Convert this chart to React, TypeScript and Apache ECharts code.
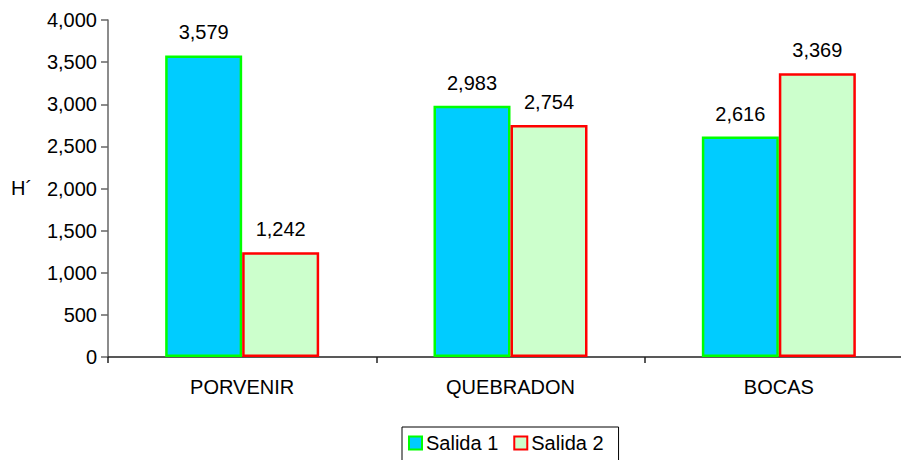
import React, { useEffect, useRef } from "react";
import * as echarts from "echarts";

const categories = ["PORVENIR", "QUEBRADON", "BOCAS"];
const salida1 = [3579, 2983, 2616];
const salida2 = [1242, 2754, 3369];
const seriesNames = ["Salida 1", "Salida 2"];

const fmt = (v: number) => Math.round(v).toString().replace(/\B(?=(\d{3})+(?!\d))/g, ",");
const FONT = "Liberation Sans, Arial, sans-serif";
const FS = 20;

export default function App() {
  const ref = useRef<HTMLDivElement>(null);
  useEffect(() => {
    if (!ref.current) return;
    const chart = echarts.init(ref.current, null, { renderer: "svg" });
    const label = {
      show: true,
      position: "top",
      distance: 13,
      fontSize: FS,
      color: "#000",
      fontFamily: FONT,
      formatter: (p: any) => fmt(p.value),
    };
    chart.setOption({
      animation: false,
      textStyle: { fontFamily: FONT },
      grid: { left: 108, top: 20, right: 7, bottom: 103, containLabel: false },
      legend: {
        left: 402,
        top: 427,
        padding: [6, 15, 12, 6],
        itemWidth: 13,
        itemHeight: 13,
        itemGap: 15,
        icon: "rect",
        borderColor: "#000",
        borderWidth: 1,
        textStyle: { fontFamily: FONT, fontSize: FS, color: "#000", padding: [0, 0, 0, -1] },
        data: seriesNames,
      },
      graphic: [
        {
          type: "text",
          left: 11,
          top: 178,
          style: { text: "H´", fontSize: FS, fontFamily: FONT, fill: "#000" },
        },
      ],
      xAxis: {
        type: "category",
        data: categories,
        axisLine: { lineStyle: { color: "#222", width: 1.5 } },
        axisTick: { show: true, alignWithLabel: false, length: 6, lineStyle: { color: "#222", width: 1.5 } },
        axisLabel: { fontSize: FS, color: "#000", margin: 20, fontFamily: FONT },
        splitLine: { show: false },
      },
      yAxis: {
        type: "value",
        min: 0,
        max: 4000,
        interval: 500,
        axisLine: { show: true, lineStyle: { color: "#666", width: 1.5 } },
        axisTick: { show: true, length: 7, lineStyle: { color: "#666", width: 1.5 } },
        axisLabel: { fontSize: FS, color: "#000", margin: 11, formatter: (v: number) => fmt(v), fontFamily: FONT },
        splitLine: { show: false },
      },
      series: [
        {
          name: seriesNames[0],
          type: "bar",
          data: salida1,
          barWidth: 77,
          barGap: "0%",
          itemStyle: { color: "#00CCFF", borderColor: "#00FF00", borderWidth: 2.5 },
          label,
        },
        {
          name: seriesNames[1],
          type: "bar",
          data: salida2,
          barWidth: 77,
          barGap: "0%",
          itemStyle: { color: "#CCFFCC", borderColor: "#FF0000", borderWidth: 2.5 },
          label,
        },
      ],
    });
    return () => chart.dispose();
  }, []);
  return (
    <div style={{ width: 901, height: 460, position: "absolute", left: 0, top: 0, overflow: "hidden" }}>
      <div ref={ref} style={{ width: 920, height: 460 }} />
    </div>
  );
}
